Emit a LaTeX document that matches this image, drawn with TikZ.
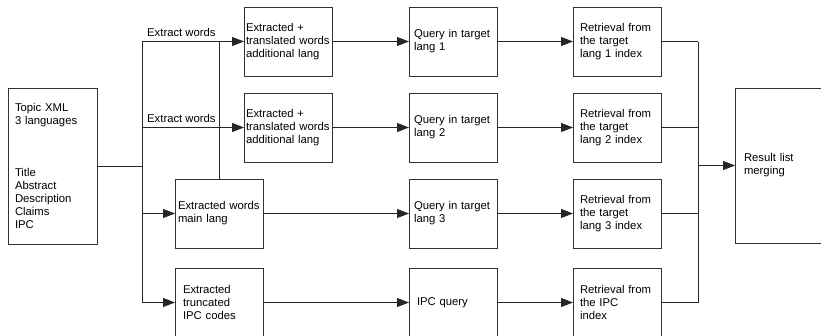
\documentclass[tikz,border=0pt]{standalone}
\usepackage{fontspec}
\setmainfont{Liberation Sans}
\usetikzlibrary{arrows.meta}
\begin{document}
\begin{tikzpicture}[x=1pt,y=-1pt,
  box/.style={draw=black!80, line width=0.8pt, minimum width=88pt, minimum height=69pt,
    outer sep=0pt, align=left, font=\fontsize{11.3}{13}\selectfont},
  wire/.style={draw=black!85, line width=0.8pt},
  arr/.style={wire, -{Triangle[length=12pt,width=9pt]}},
  lbl/.style={font=\fontsize{11.3}{13}\selectfont, inner sep=0pt}]
\useasboundingbox (0,0) rectangle (821,335);
\clip (0,0) rectangle (821,335);

% source topic
\node[box, minimum width=89pt, minimum height=156pt, text width=75pt, inner xsep=7pt]
  (topic) at (52.5,166) {Topic XML\\3 languages\\[39pt]Title\\Abstract\\Description\\Claims\\IPC};

% extraction column
\node[box, text width=84pt, inner xsep=2pt] (tr1) at (288,41.5) {Extracted +\\translated words\\additional lang};
\node[box, text width=84pt, inner xsep=2pt] (tr2) at (288,127.5) {Extracted +\\translated words\\additional lang};
\node[box, text width=82pt, inner xsep=3pt] (mw) at (219,213.5) {Extracted words\\main lang};
\node[box, text width=72pt, inner xsep=8pt] (ipcx) at (219,302.5) {Extracted\\truncated\\IPC codes};

% queries
\node[box, text width=78pt, inner xsep=5pt] (q1) at (453,41.5) {Query in target\\lang 1};
\node[box, text width=78pt, inner xsep=5pt] (q2) at (453,127.5) {Query in target\\lang 2};
\node[box, text width=78pt, inner xsep=5pt] (q3) at (453,213.5) {Query in target\\lang 3};
\node[box, text width=72pt, inner xsep=8pt] (q4) at (453,302.5) {IPC query};

% retrieval
\node[box, text width=74pt, inner xsep=7pt] (r1) at (617,41.5) {Retrieval from\\the target\\lang 1 index};
\node[box, text width=74pt, inner xsep=7pt] (r2) at (617,127.5) {Retrieval from\\the target\\lang 2 index};
\node[box, text width=74pt, inner xsep=7pt] (r3) at (617,213.5) {Retrieval from\\the target\\lang 3 index};
\node[box, text width=74pt, inner xsep=7pt] (r4) at (617,302.5) {Retrieval from\\the IPC\\index};

% merging (runs past the right edge)
\node[box, minimum width=130pt, minimum height=155pt, text width=112pt, inner xsep=9pt]
  (res) at (800,165.5) {Result list\\merging};

% fan-out from the topic
\coordinate (t) at (142,166);
\coordinate (ttop) at (142,41.5);
\coordinate (tbot) at (142,302.5);
\draw[wire] (topic.east) -- (t);
\draw[wire] (ttop) -- (tbot);
\draw[arr] (ttop) -- (tr1.west);
\draw[arr] (tr2.west -| ttop) -- (tr2.west);
\draw[arr] (mw.west -| ttop) -- (mw.west);
\draw[arr] (ipcx.west -| ttop) -- (ipcx.west);
\node[lbl, anchor=base west] (lx1) at (147,36) {Extract words};
\node[lbl, anchor=base west] (lx2) at (147,122) {Extract words};
\draw[wire] (mw.north) -- (mw.north |- tr1.west);

% rows
\foreach \a/\b/\c in {tr1/q1/r1, tr2/q2/r2, mw/q3/r3, ipcx/q4/r4} {
  \draw[arr] (\a.east) -- (\b.west);
  \draw[arr] (\b.east) -- (\c.west);
}

% fan-in to merging
\coordinate (m) at (698,165.5);
\foreach \c in {r1,r2,r3,r4} \draw[wire] (\c.east) -- (\c.east -| m);
\draw[wire] (r1.east -| m) -- (r4.east -| m);
\draw[arr] (m) -- (res.west);
\end{tikzpicture}
\end{document}
